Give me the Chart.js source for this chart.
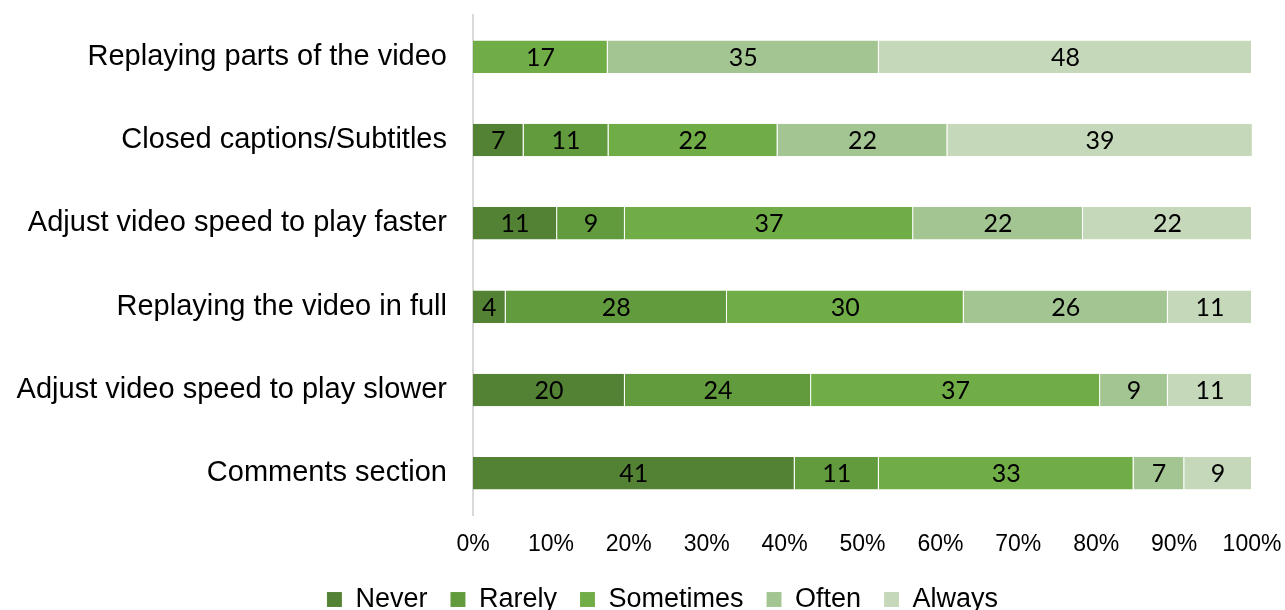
<!DOCTYPE html>
<html>
<head>
<meta charset="utf-8">
<script src="https://cdn.jsdelivr.net/npm/chart.js@4"></script>
<style>
  html, body { margin: 0; padding: 0; background: #ffffff; }
  #wrap { width: 1285px; height: 610px; }
</style>
</head>
<body>
<div id="wrap"><canvas id="c" width="1285" height="610"></canvas></div>
<script>
const categories = [
  "Replaying parts of the video",
  "Closed captions/Subtitles",
  "Adjust video speed to play faster",
  "Replaying the video in full",
  "Adjust video speed to play slower",
  "Comments section"
];
const seriesNames = ["Never", "Rarely", "Sometimes", "Often", "Always"];
const never     = [0,    6.5,  10.8, 4.2,  19.5, 41.3];
const rarely    = [0,    10.9, 8.7,  28.4, 23.9, 10.8];
const sometimes = [17.3, 21.7, 37.0, 30.4, 37.1, 32.7];
const often     = [34.8, 21.8, 21.8, 26.2, 8.7,  6.5];
const always    = [47.9, 39.2, 21.7, 10.8, 10.8, 8.7];
const xTickLabels = ["0%","10%","20%","30%","40%","50%","60%","70%","80%","90%","100%"];

const colors = ["#548235", "#629a3e", "#70ad47", "#a3c592", "#c5d9ba"];
const seriesValues = [never, rarely, sometimes, often, always];

const barLabels = {
  id: 'barLabels',
  afterLayout(chart) {
    if (chart.legend) {
      chart.legend.left += 20;
      chart.legend.right += 20;
    }
  },
  afterDatasetsDraw(chart) {
    const ctx = chart.ctx;
    ctx.save();
    ctx.font = '25px Lato, "Open Sans", sans-serif';
    ctx.fillStyle = '#000000';
    ctx.textAlign = 'center';
    ctx.textBaseline = 'middle';
    chart.data.datasets.forEach((ds, di) => {
      const meta = chart.getDatasetMeta(di);
      meta.data.forEach((bar, i) => {
        const v = ds.data[i];
        if (!v) return;
        const cx = (bar.x + bar.base) / 2;
        ctx.fillText(String(Math.round(v)), cx, bar.y + 1);
      });
    });
    ctx.restore();
  }
};

new Chart(document.getElementById('c'), {
  type: 'bar',
  data: {
    labels: categories,
    datasets: seriesNames.map((name, k) => ({
      label: name,
      data: seriesValues[k],
      backgroundColor: colors[k],
      borderColor: 'rgba(255,255,255,0.35)',
      borderWidth: { left: 0, right: 1, top: 0, bottom: 0 },
      borderSkipped: false,
      barPercentage: 0.39,
      categoryPercentage: 1.0
    }))
  },
  options: {
    indexAxis: 'y',
    responsive: false,
    animation: false,
    devicePixelRatio: 1,
    layout: { padding: { top: 15, right: 0, left: 0, bottom: -13 } },
    scales: {
      x: {
        stacked: true,
        min: 0, max: 100,
        grid: { display: false, drawTicks: false },
        border: { display: false },
        ticks: {
          stepSize: 10,
          padding: 16,
          color: '#000000',
          font: { family: '"Liberation Sans", Arial, sans-serif', size: 23 },
          callback: (v, i) => xTickLabels[i]
        },
        afterFit: (s) => { s.height = 48; s.paddingRight = 33; }
      },
      y: {
        stacked: true,
        grid: { display: false, drawTicks: false },
        border: { display: true, color: '#d9d9d9', width: 2 },
        ticks: {
          padding: 26,
          color: '#000000',
          font: { family: '"Liberation Sans", Arial, sans-serif', size: 29 }
        },
        afterFit: (s) => { s.width = 473; s.paddingTop = 0; s.paddingBottom = 0; }
      }
    },
    plugins: {
      legend: {
        position: 'bottom',
        labels: {
          boxWidth: 15,
          boxHeight: 15,
          padding: 23,
          color: '#000000',
          font: { family: '"Liberation Sans", Arial, sans-serif', size: 27 }
        }
      },
      tooltip: { enabled: false }
    }
  },
  plugins: [barLabels]
});
</script>
</body>
</html>
